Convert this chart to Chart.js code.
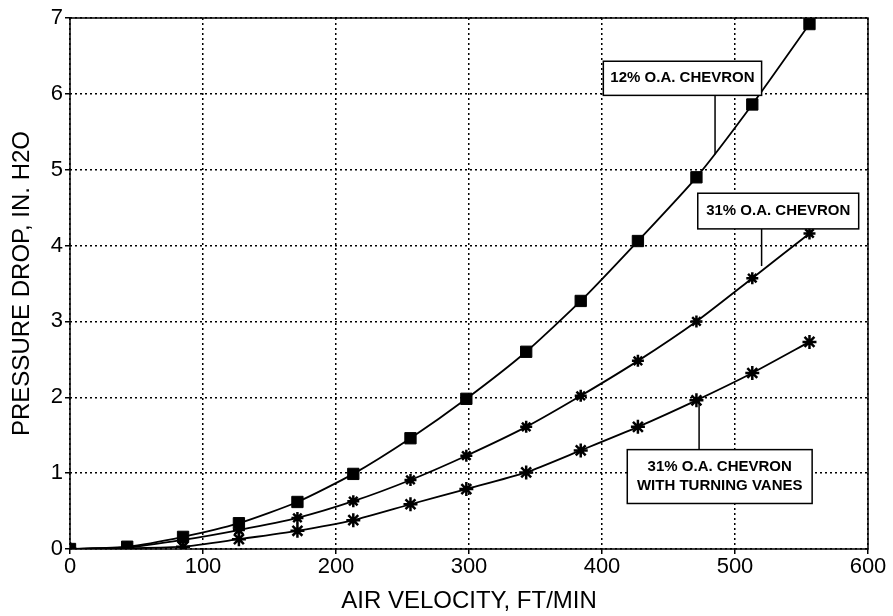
<!DOCTYPE html>
<html>
<head>
<meta charset="utf-8">
<script src="https://cdn.jsdelivr.net/npm/chart.js@4.4.1/dist/chart.umd.min.js"></script>
<style>
  html, body { margin: 0; padding: 0; background: #fff; }
  #wrap { width: 893px; height: 616px; }
</style>
</head>
<body>
<div id="wrap"><canvas id="myChart" width="893" height="616"></canvas></div>
<script>
// air velocity, ft/min
const velocity = [0, 43, 85, 127, 171, 213, 256, 298, 343, 384, 427, 471, 513, 556];

// pressure drop, in. H2O
const chevron12 = [0, 0.03, 0.16, 0.34, 0.62, 0.99, 1.46, 1.98, 2.6, 3.27, 4.06, 4.9, 5.86, 6.92];
const chevron31 = [0, 0.02, 0.12, 0.25, 0.41, 0.63, 0.91, 1.23, 1.61, 2.02, 2.48, 3.0, 3.57, 4.16];
const chevron31Vanes = [0, 0.01, 0.03, 0.13, 0.24, 0.38, 0.59, 0.79, 1.01, 1.3, 1.61, 1.96, 2.32, 2.73];

const xTicks = [0, 100, 200, 300, 400, 500, 600];
const yTicks = [0, 1, 2, 3, 4, 5, 6, 7];

const FONT = '"Liberation Sans", Arial, sans-serif';

const toPoints = (ys) => ys.map((y, i) => ({ x: velocity[i], y: y }));

// callout boxes: label lines, box corners in data units, leader line (data units)
const callouts = [
  { lines: ['12% O.A. CHEVRON'], box: [401, 6.43, 520, 5.98], leader: [485, 5.98, 485, 5.2] },
  { lines: ['31% O.A. CHEVRON'], box: [472, 4.69, 593, 4.22], leader: [520, 4.22, 520, 3.73] },
  { lines: ['31% O.A. CHEVRON', 'WITH TURNING VANES'], box: [419, 1.31, 558, 0.6], leader: [473, 1.31, 473, 1.96] }
];

const calloutPlugin = {
  id: 'callouts',
  afterDatasetsDraw(chart) {
    const { ctx, scales: { x, y } } = chart;
    ctx.save();
    callouts.forEach(c => {
      const x1 = x.getPixelForValue(c.box[0]), y1 = y.getPixelForValue(c.box[1]);
      const x2 = x.getPixelForValue(c.box[2]), y2 = y.getPixelForValue(c.box[3]);
      ctx.strokeStyle = '#000';
      ctx.lineWidth = 1.5;
      ctx.beginPath();
      ctx.moveTo(x.getPixelForValue(c.leader[0]), y.getPixelForValue(c.leader[1]));
      ctx.lineTo(x.getPixelForValue(c.leader[2]), y.getPixelForValue(c.leader[3]));
      ctx.stroke();
      ctx.fillStyle = '#fff';
      ctx.fillRect(x1, y1, x2 - x1, y2 - y1);
      ctx.strokeRect(x1, y1, x2 - x1, y2 - y1);
      ctx.fillStyle = '#000';
      ctx.font = 'bold 15px ' + FONT;
      ctx.textAlign = 'center';
      ctx.textBaseline = 'middle';
      const cx = (x1 + x2) / 2, cy = (y1 + y2) / 2;
      const lh = 19;
      c.lines.forEach((t, i) => {
        ctx.fillText(t, cx, cy + (i - (c.lines.length - 1) / 2) * lh, x2 - x1 - 4);
      });
    });
    ctx.restore();
  }
};

// solid frame round the plot area
const framePlugin = {
  id: 'frame',
  beforeDatasetsDraw(chart) {
    const { ctx, chartArea: a } = chart;
    ctx.save();
    ctx.strokeStyle = '#000';
    ctx.lineWidth = 1.5;
    ctx.strokeRect(a.left, a.top, a.right - a.left, a.bottom - a.top);
    ctx.restore();
  }
};

const lineDs = (label, ys, style, radius, bw) => ({
  label: label,
  data: toPoints(ys),
  borderColor: '#000',
  backgroundColor: '#000',
  borderWidth: 1.8,
  pointStyle: style,
  pointRadius: radius,
  pointBorderWidth: bw,
  pointBorderColor: '#000',
  pointBackgroundColor: '#000',
  tension: 0.2,
  fill: false
});

new Chart(document.getElementById('myChart'), {
  type: 'line',
  data: {
    datasets: [
      lineDs('12% O.A. CHEVRON', chevron12, 'rect', 8, 1),
      lineDs('31% O.A. CHEVRON', chevron31, 'star', 6, 2.5),
      lineDs('31% O.A. CHEVRON WITH TURNING VANES', chevron31Vanes, 'star', 7, 2.5)
    ]
  },
  options: {
    responsive: false,
    animation: false,
    layout: { padding: { top: 18, right: 25, left: 0, bottom: 0 } },
    plugins: { legend: { display: false }, tooltip: { enabled: false } },
    scales: {
      x: {
        type: 'linear',
        min: 0, max: 600,
        afterBuildTicks: (s) => { s.ticks = xTicks.map(v => ({ value: v })); },
        afterFit: (s) => { s.height = 67; },
        grid: { color: '#000', lineWidth: 1.5, drawTicks: true, tickLength: 5, tickColor: '#000' },
        border: { display: false, dash: [2, 3] },
        ticks: { color: '#000', font: { family: FONT, size: 22 }, padding: 0, maxRotation: 0 },
        title: {
          display: true, text: 'AIR VELOCITY, FT/MIN', color: '#000',
          font: { family: FONT, size: 24 }, padding: { top: 0, bottom: 0 }
        }
      },
      y: {
        type: 'linear',
        min: 0, max: 7,
        afterBuildTicks: (s) => { s.ticks = yTicks.map(v => ({ value: v })); },
        afterFit: (s) => { s.width = 70; },
        grid: { color: '#000', lineWidth: 1.5, drawTicks: true, tickLength: 5, tickColor: '#000' },
        border: { display: false, dash: [2, 3] },
        ticks: { color: '#000', font: { family: FONT, size: 22 }, padding: 2 },
        title: {
          display: true, text: 'PRESSURE DROP, IN. H2O', color: '#000',
          font: { family: FONT, size: 24 }, padding: { top: 8, bottom: 0 }
        }
      }
    }
  },
  plugins: [framePlugin, calloutPlugin]
});
</script>
</body>
</html>
